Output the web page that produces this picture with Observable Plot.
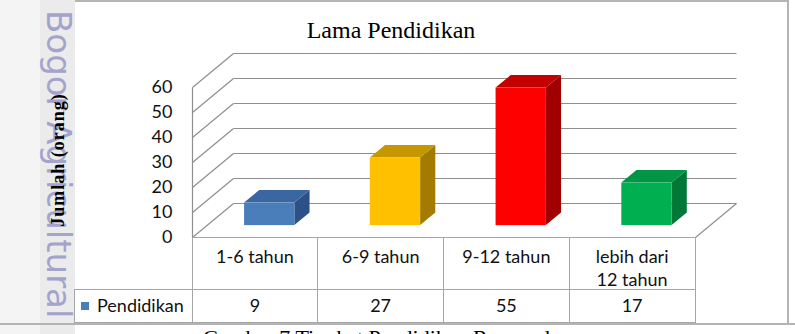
<!DOCTYPE html>
<html><head><meta charset="utf-8">
<script src="https://cdn.jsdelivr.net/npm/d3@7"></script>
<script src="https://cdn.jsdelivr.net/npm/@observablehq/plot@0.6"></script>
<style>
body{margin:0;background:#fff;}
#wrap{position:relative;width:795px;height:334px;overflow:hidden;background:#fff;font-family:Lato,"Open Sans",sans-serif;color:#111;}
.abs{position:absolute;}
#plot{position:absolute;left:0;top:0;}
.ln{position:absolute;background:#a6a6a6;}
.cell{position:absolute;box-sizing:border-box;text-align:center;font-size:18px;white-space:pre-line;}
</style></head><body>
<div id="wrap">
  <div class="abs" style="left:0;top:0;width:40px;height:334px;background:#f4f4f4"></div>
  <div class="abs" style="left:40px;top:0;width:35px;height:334px;background:#ebebeb"></div>
  <div class="abs" id="wm" style="left:76px;top:10px;transform-origin:0 0;transform:rotate(90deg);font-family:'DejaVu Sans';font-size:34px;line-height:34px;color:#a3a3cc;white-space:nowrap;">Bogor Agricultural</div>
  <div class="abs" style="left:75px;top:0;width:714px;height:2px;background:#b4b4b4"></div>
  <div class="abs" style="left:787px;top:0;width:2px;height:325px;background:#b4b4b4"></div>
  <div class="abs" style="left:0;top:323px;width:795px;height:2px;background:#b4b4b4"></div>
  <div id="plot"></div>
  <div class="abs" id="title" style="left:391px;top:16px;transform:translateX(-50%);font-family:'Liberation Serif',serif;font-size:24px;line-height:28px;white-space:nowrap;color:#000"></div>
  <div class="abs" id="ylab" style="left:58px;top:160px;transform:translate(-50%,-50%) rotate(-90deg);font-family:'Liberation Serif',serif;font-weight:bold;font-size:18px;letter-spacing:1px;white-space:nowrap;color:#000"></div>
  <div id="table"></div>
  <div class="abs" id="caption" style="left:203px;top:327px;font-family:'Liberation Serif',serif;font-size:22px;line-height:22px;white-space:nowrap;color:#000"></div>
</div>
<script>
// ---- data ----
const categories = ["1-6 tahun", "6-9 tahun", "9-12 tahun", "lebih dari\n12 tahun"];
const values = [9, 27, 55, 17];
const seriesName = "Pendidikan";
const yTicks = [0, 10, 20, 30, 40, 50, 60];
const titleText = "Lama Pendidikan";
const yLabelText = "Jumlah (orang)";
const captionText = "Gambar 7 Tingkat Pendidikan Responden";
const watermarkText = "Bogor Agricultural";

// ---- styles ----
const frontColors = ["#4a7ebb", "#ffc000", "#ff0000", "#00b050"];
const topColors   = ["#3a66a2", "#c69800", "#c40000", "#009645"];
const sideColors  = ["#2d5186", "#a27b00", "#a00000", "#007838"];
const gridColor = "#8f8f8f";

// 3D projection (in data units per full floor depth)
const DX = 0.326, DY = 13.6;
const F0 = 0.35, F1 = 0.72;   // bar depth span
const A = 0.3, B = 0.7;       // bar span within a column
const n = categories.length;

const bars = categories.map((c, i) => ({c, i, v: values[i]}));
const barDepth = bars.flatMap(b => [F0, F1].map(f => ({...b, f})));

const chart = Plot.plot({
  width: 795, height: 334, margin: 0,
  x: {domain: [0, n], range: [192, 695], axis: null},
  y: {domain: [0, 60], range: [237, 87], axis: null},
  color: {type: "identity"},
  style: {background: "transparent", overflow: "visible"},
  marks: [
    // back wall gridlines
    Plot.link(yTicks, {x1: DX, x2: n + DX, y1: t => t + DY, y2: t => t + DY, stroke: gridColor, strokeWidth: 1.2}),
    // side wall diagonals
    Plot.link(yTicks, {x1: 0, x2: DX, y1: t => t, y2: t => t + DY, stroke: gridColor, strokeWidth: 1.2}),
    // left wall front edge
    Plot.link([0], {x1: 0, x2: 0, y1: 0, y2: 60, stroke: gridColor, strokeWidth: 1.2}),
    // floor right diagonal and front edge
    Plot.link([n], {x1: n, x2: n + DX, y1: 0, y2: DY, stroke: gridColor, strokeWidth: 1.2}),
    Plot.link([0], {x1: 0, x2: n, y1: 0, y2: 0, stroke: gridColor, strokeWidth: 1.2}),
    // bars: side, top, front
    Plot.areaY(barDepth, {x: d => d.i + B + d.f * DX, y1: d => d.f * DY, y2: d => d.v + d.f * DY, z: "c", fill: d => sideColors[d.i]}),
    Plot.areaX(barDepth, {y: d => d.v + d.f * DY, x1: d => d.i + A + d.f * DX, x2: d => d.i + B + d.f * DX, z: "c", fill: d => topColors[d.i]}),
    Plot.rect(bars, {x1: d => d.i + A + F0 * DX, x2: d => d.i + B + F0 * DX, y1: F0 * DY, y2: d => d.v + F0 * DY, fill: d => frontColors[d.i]}),
    // y tick labels
    Plot.text(yTicks, {x: 0, y: t => t, text: t => String(t), dx: -20, textAnchor: "end", fontSize: 18, fontFamily: "Lato", fill: "#111"})
  ]
});
document.getElementById("plot").append(chart);

document.getElementById("title").textContent = titleText;
document.getElementById("ylab").textContent = yLabelText;
document.getElementById("caption").textContent = captionText;
document.getElementById("wm").textContent = watermarkText;

// ---- data table under the chart, aligned to the x scale ----
const xs = chart.scale("x"), ys = chart.scale("y");
const colX = d3.range(n + 1).map(i => xs.apply(i));
const top0 = ys.apply(0);
const h1 = 52, h2 = 33, legendLeft = 74;
const tbl = document.getElementById("table");
function line(x, y, w, h) {
  const d = document.createElement("div");
  d.className = "ln";
  Object.assign(d.style, {left: x + "px", top: y + "px", width: w + "px", height: h + "px"});
  tbl.append(d);
}
function cell(x, y, w, h, text, extra) {
  const d = document.createElement("div");
  d.className = "cell";
  Object.assign(d.style, {left: x + "px", top: y + "px", width: w + "px", height: h + "px"}, extra || {});
  d.textContent = text;
  tbl.append(d);
  return d;
}
const xEnd = colX[n];
line(colX[0], top0 - 0.5, xEnd - colX[0] + 1, 1);
line(legendLeft, top0 + h1 - 0.5, xEnd - legendLeft + 1, 1);
line(legendLeft, top0 + h1 + h2 - 0.5, xEnd - legendLeft + 1, 1);
line(legendLeft - 0.5, top0 + h1, 1, h2);
colX.forEach(x => line(x - 0.5, top0, 1, h1 + h2));
categories.forEach((c, i) => {
  cell(colX[i], top0, colX[i + 1] - colX[i], h1, c, {paddingTop: "8px", lineHeight: "23px"});
  cell(colX[i], top0 + h1, colX[i + 1] - colX[i], h2, String(values[i]), {lineHeight: h2 + "px"});
});
const sw = document.createElement("div");
Object.assign(sw.style, {position: "absolute", left: "81px", top: (top0 + h1 + 13) + "px", width: "8px", height: "8px", background: frontColors[0]});
tbl.append(sw);
cell(97, top0 + h1, 95, h2, seriesName, {textAlign: "left", lineHeight: h2 + "px"});
</script>
</body></html>
